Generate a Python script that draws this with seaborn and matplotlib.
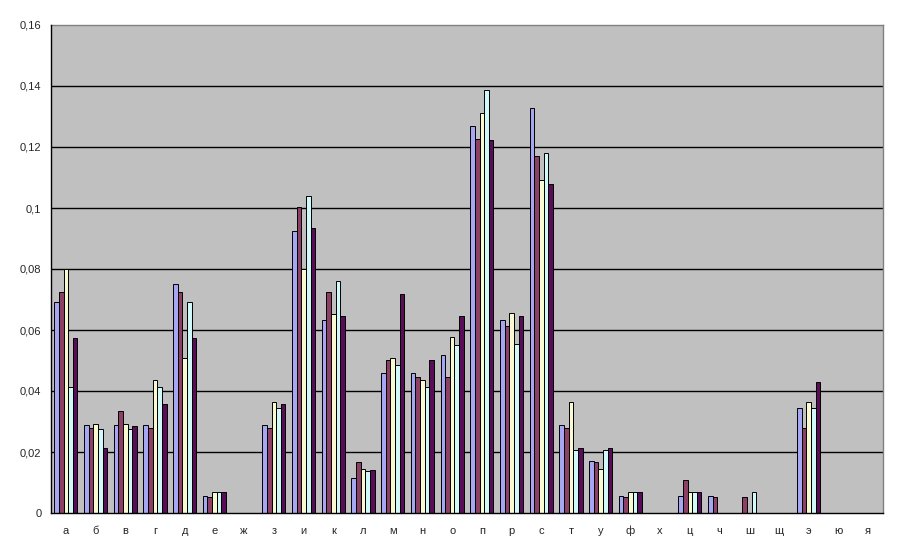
import matplotlib
matplotlib.use("Agg")
import matplotlib.pyplot as plt
import seaborn as sns
import pandas as pd
import numpy as np
from matplotlib.ticker import FuncFormatter, FixedLocator

letters = ["а", "б", "в", "г", "д", "е", "ж", "з", "и", "к", "л", "м", "н", "о",
           "п", "р", "с", "т", "у", "ф", "х", "ц", "ч", "ш", "щ", "э", "ю", "я"]

s1 = [0.0691, 0.0288, 0.0288, 0.0288, 0.0751, 0.0055, 0, 0.0288, 0.0924, 0.0632, 0.0114, 0.0459, 0.0459, 0.0517,
      0.1268, 0.0633, 0.1327, 0.0288, 0.0169, 0.0055, 0, 0.0055, 0.0055, 0, 0, 0.0343, 0, 0]
s2 = [0.0724, 0.0278, 0.0334, 0.0278, 0.0724, 0.0052, 0, 0.0279, 0.1003, 0.0724, 0.0166, 0.0501, 0.0445, 0.0445,
      0.1225, 0.0612, 0.1170, 0.0278, 0.0166, 0.0051, 0, 0.0108, 0.0052, 0.0052, 0, 0.0278, 0, 0]
s3 = [0.0799, 0.0291, 0.0291, 0.0435, 0.0507, 0.0068, 0, 0.0363, 0.0799, 0.0654, 0.0143, 0.0507, 0.0435, 0.0578,
      0.1311, 0.0655, 0.1091, 0.0363, 0.0143, 0.0068, 0, 0.0068, 0, 0, 0, 0.0363, 0, 0]
s4 = [0.0412, 0.0274, 0.0274, 0.0412, 0.0691, 0.0068, 0, 0.0343, 0.1038, 0.0760, 0.0137, 0.0484, 0.0412, 0.0551,
      0.1386, 0.0553, 0.1179, 0.0206, 0.0206, 0.0068, 0, 0.0068, 0, 0.0068, 0, 0.0343, 0, 0]
s5 = [0.0573, 0.0212, 0.0284, 0.0357, 0.0573, 0.0068, 0, 0.0356, 0.0933, 0.0646, 0.0140, 0.0717, 0.0501, 0.0646,
      0.1222, 0.0645, 0.1078, 0.0212, 0.0212, 0.0068, 0, 0.0068, 0, 0, 0, 0.0429, 0, 0]

series_names = ["1", "2", "3", "4", "5"]
colors = ["#9999FF", "#993366", "#FFFFCC", "#CCFFFF", "#660066"]

rows = []
for name, vals in zip(series_names, [s1, s2, s3, s4, s5]):
    for l, v in zip(letters, vals):
        rows.append({"letter": l, "series": name, "value": v})
df = pd.DataFrame(rows)

sns.set_style("white")
plt.rcParams["font.family"] = ["Liberation Sans", "DejaVu Sans"]

fig = plt.figure(figsize=(8.97, 5.58), dpi=100)
ax = fig.add_axes([51 / 897, 45 / 558, 832 / 897, 488 / 558])
ax.set_facecolor("#C0C0C0")

sns.barplot(data=df, x="letter", y="value", hue="series", order=letters,
            hue_order=series_names, palette=colors, width=0.78,
            edgecolor="black", linewidth=0.7, ax=ax, legend=False, zorder=3)

ax.set_xlim(-0.5, len(letters) - 0.5)
ax.set_ylim(0, 0.16)
yt = np.arange(0, 0.1601, 0.02)
ax.set_yticks(yt)

def fmt(v, pos):
    s = ("%.2f" % v).rstrip("0").rstrip(".")
    return s.replace(".", ",")

ax.yaxis.set_major_formatter(FuncFormatter(fmt))
for y in yt[1:-1]:
    ax.axhline(y, color="black", linewidth=1.0, zorder=1)

ax.xaxis.set_minor_locator(FixedLocator(np.arange(-0.5, len(letters), 1.0)))
ax.tick_params(axis="x", which="major", length=0, pad=9, labelsize=8)
ax.tick_params(axis="x", which="minor", length=4, width=1, color="black", direction="out")
ax.tick_params(axis="y", which="major", length=4, width=1, color="black", direction="out",
               labelsize=8, pad=3)
ax.set_xlabel("")
ax.set_ylabel("")
for sp in ["top", "right"]:
    ax.spines[sp].set_visible(True)
    ax.spines[sp].set_color("#808080")
    ax.spines[sp].set_linewidth(1.0)
for sp in ["left", "bottom"]:
    ax.spines[sp].set_color("black")
    ax.spines[sp].set_linewidth(1.0)
    ax.spines[sp].set_zorder(4)

fig.savefig("out.png", dpi=100, facecolor="white")
